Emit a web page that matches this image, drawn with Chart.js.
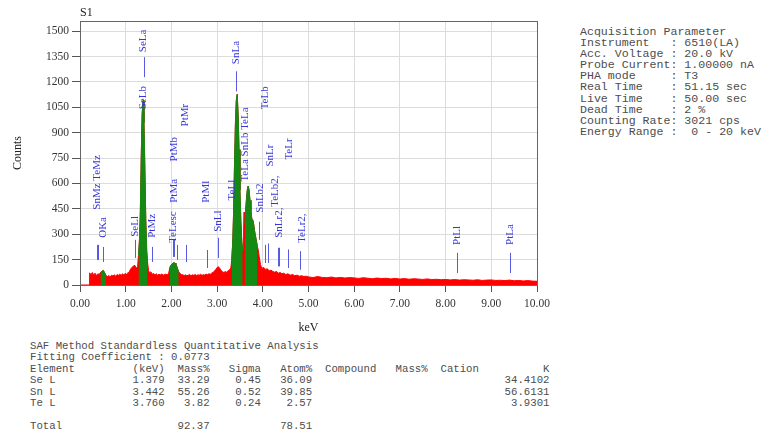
<!DOCTYPE html>
<html lang="en">
<head>
  <meta charset="UTF-8">
  <title>EDS spectrum S1</title>
  <script src="https://cdn.jsdelivr.net/npm/chart.js@4.4.2/dist/chart.umd.min.js"></script>
  <style>
    body { margin: 0; background: #fff; }
    #wrap { position: relative; width: 762px; height: 439px; overflow: hidden; }
    #spec { position: absolute; left: 0; top: 0; }
    .mono {
      position: absolute; margin: 0;
      font-family: 'Liberation Mono', 'DejaVu Sans Mono', monospace;
      color: #4d4d4d; white-space: pre;
    }
    #params { left: 580px; top: 26px; font-size: 11.6px; line-height: 11.1px; }
    #saf { left: 30px; top: 341px; font-size: 10.7px; line-height: 11.4px; }
    #sample { position: absolute; left: 80px; top: 5px; font: 12px 'Liberation Serif', serif; color: #222; }
  </style>
</head>
<body>
  <div id="wrap">
    <canvas id="spec" width="560" height="340"></canvas>
    <div id="sample">S1</div>
    <pre class="mono" id="params"></pre>
    <pre class="mono" id="saf"></pre>
  </div>

  <script>
    // spectrum (keV, counts)
    const energy = [
      0.00, 0.20, 0.21, 0.24, 0.27, 0.30, 0.33, 0.36, 0.39, 0.42,
      0.45, 0.48, 0.51, 0.54, 0.57, 0.60, 0.63, 0.66, 0.69, 0.72,
      0.75, 0.78, 0.81, 0.84, 0.87, 0.90, 0.93, 0.96, 0.99, 1.02,
      1.05, 1.08, 1.11, 1.14, 1.17, 1.20, 1.23, 1.26,
      1.28, 1.30, 1.32, 1.34, 1.36, 1.38, 1.40, 1.42, 1.44, 1.46,
      1.48, 1.50,
      1.52, 1.55, 1.58, 1.61, 1.64, 1.67, 1.70, 1.73, 1.76, 1.79,
      1.82, 1.85, 1.88, 1.91, 1.94,
      1.96, 1.98, 2.00, 2.02, 2.04, 2.06, 2.08, 2.10, 2.12, 2.14,
      2.16,
      2.19, 2.22, 2.25, 2.28, 2.31, 2.34, 2.37, 2.40, 2.43, 2.46,
      2.49, 2.52, 2.55, 2.58, 2.61, 2.64, 2.67, 2.70, 2.73, 2.76,
      2.79, 2.82, 2.85, 2.88, 2.91, 2.94, 2.97, 3.00, 3.03, 3.06,
      3.09, 3.12, 3.15, 3.18, 3.21, 3.24, 3.27, 3.30,
      3.32, 3.34, 3.36, 3.38, 3.40, 3.42, 3.44, 3.46, 3.48, 3.50,
      3.52, 3.54, 3.56, 3.57, 3.58, 3.59, 3.60, 3.61, 3.62, 3.64,
      3.66, 3.68, 3.70, 3.72, 3.74, 3.76, 3.78, 3.80, 3.82, 3.84,
      3.86, 3.88, 3.90,
      3.92, 3.95, 3.98, 4.02, 4.06, 4.10, 4.14, 4.18, 4.22, 4.26,
      4.30, 4.34, 4.38, 4.42, 4.46, 4.50, 4.55, 4.60, 4.65, 4.70,
      4.75, 4.80, 4.85, 4.90, 4.95,
      5.0, 5.1, 5.2, 5.3, 5.4, 5.5, 5.6, 5.7, 5.8, 5.9,
      6.0, 6.1, 6.2, 6.3, 6.4, 6.5, 6.6, 6.7, 6.8, 6.9,
      7.0, 7.1, 7.2, 7.3, 7.4, 7.5, 7.6, 7.7, 7.8, 7.9,
      8.0, 8.1, 8.2, 8.3, 8.4, 8.5, 8.6, 8.7, 8.8, 8.9,
      9.0, 9.1, 9.2, 9.3, 9.4, 9.5, 9.6, 9.7, 9.8, 9.9,
      10.0
    ];
    const counts = [
      0, 0, 72, 60, 74, 58, 70, 55, 66, 62,
      75, 80, 86, 72, 56, 50, 56, 48, 58, 54,
      60, 52, 62, 57, 64, 58, 66, 60, 68, 64,
      72, 80, 95, 105, 112, 116, 100, 108,
      175, 260, 430, 760, 1010, 1090, 960, 680, 380, 200,
      130, 85,
      72, 78, 64, 68, 60, 66, 58, 63, 60, 65,
      58, 62, 64, 60, 70,
      95, 112, 120, 126, 130, 131, 128, 120, 108, 92,
      78,
      68, 62, 60, 56, 60, 54, 58, 62, 55, 60,
      57, 62, 56, 60, 58, 63, 57, 61, 59, 64,
      62, 66, 63, 70, 74, 82, 92, 104, 108, 98,
      86, 78, 74, 80, 76, 84, 88, 100,
      150, 240, 420, 700, 950, 1090, 1127, 1010, 800, 560,
      380, 260, 200, 210, 330, 430, 300, 360, 420, 500,
      560, 585, 560, 500, 440, 390, 385, 360, 320, 290,
      260, 230, 207,
      170, 120, 98, 104, 92, 96, 84, 88, 80, 76,
      80, 70, 74, 66, 70, 62, 66, 58, 62, 55,
      58, 52, 55, 50, 52,
      48, 44, 50, 45, 43, 47, 42, 45, 41, 44,
      42, 39, 43, 40, 37, 41, 38, 40, 36, 39,
      35, 38, 34, 37, 35, 33, 36, 32, 34, 31,
      33, 30, 32, 29, 31, 30, 28, 31, 27, 29,
      30, 27, 28, 26, 29, 25, 27, 24, 26, 23,
      22
    ];
    // keV ranges shaded green (O K, Se L, Te L esc, Sn L, Sn/Te L)
    const peakWindows = [[0.44, 0.58], [1.27, 1.49], [1.95, 2.17], [3.31, 3.565], [3.605, 3.885]];

    const xTicks = [0, 1, 2, 3, 4, 5, 6, 7, 8, 9, 10];
    const yTicks = [0, 150, 300, 450, 600, 750, 900, 1050, 1200, 1350, 1500];

    // line labels: name, keV, counts where the (rotated) text starts
    const lineNames = ['SnMz TeMz', 'OKa', 'SeLl', 'SeLb', 'SeLa', 'PtMz', 'TeLesc', 'PtMa', 'PtMb', 'PtMr',
      'PtMl', 'SnLl', 'TeLl', 'SnLa', 'TeLa SnLb TeLa', 'SnLb2', 'TeLb', 'SnLr', 'TeLb2,', 'SnLr2,',
      'TeLr', 'TeLr2,', 'PtLl', 'PtLa'];
    const lineKeV = [0.37, 0.50, 1.20, 1.39, 1.39, 1.57, 2.04, 2.05, 2.06, 2.30,
      2.77, 3.03, 3.33, 3.41, 3.62, 3.94, 4.05, 4.17, 4.28, 4.36,
      4.57, 4.85, 8.25, 9.41];
    const lineTextAt = [445, 279, 285, 1038, 1376, 279, 249, 486, 730, 937,
      486, 314, 500, 1305, 611, 427, 1038, 700, 462, 279,
      741, 249, 237, 237];

    // short marker strokes: keV, low, high
    const markerKeV = [0.37, 0.40, 0.50, 1.20, 1.39, 1.58, 2.03, 2.05, 2.12, 2.33,
      2.77, 3.03, 3.41, 3.92, 4.05, 4.11, 4.33, 4.36, 4.55, 4.81, 8.25, 9.41];
    const markerLow = [148, 148, 136, 160, 1228, 136, 166, 166, 148, 136,
      100, 160, 1144, 267, 130, 130, 110, 110, 100, 90, 71, 71];
    const markerHigh = [237, 237, 225, 267, 1346, 225, 267, 267, 237, 237,
      207, 279, 1263, 374, 237, 245, 220, 220, 210, 200, 190, 190];

    const spectrum = energy.map((e, i) => ({ x: e, y: counts[i] }));
    const inPeak = e => peakWindows.some(w => e >= w[0] && e <= w[1]);
    const peakArea = energy.map((e, i) => ({ x: e, y: inPeak(e) ? counts[i] : null }));

    const serif = "'Liberation Serif', 'Times New Roman', serif";

    const frame = {
      id: 'frame',
      afterDraw(chart) {
        const { ctx, chartArea: a } = chart;
        ctx.save();
        ctx.strokeStyle = '#666';
        ctx.lineWidth = 1;
        ctx.strokeRect(a.left + 0.5, a.top + 0.5, a.right - a.left, a.bottom - a.top);
        ctx.restore();
      }
    };

    const lineLabels = {
      id: 'lineLabels',
      afterDatasetsDraw(chart) {
        const { ctx, scales: { x, y } } = chart;
        ctx.save();
        ctx.strokeStyle = '#5a5ae0';
        ctx.lineWidth = 1;
        for (let i = 0; i < markerKeV.length; i++) {
          const px = Math.round(x.getPixelForValue(markerKeV[i])) + 0.5;
          ctx.beginPath();
          ctx.moveTo(px, y.getPixelForValue(markerLow[i]));
          ctx.lineTo(px, y.getPixelForValue(markerHigh[i]));
          ctx.stroke();
        }
        ctx.fillStyle = '#3535d8';
        ctx.font = '11px ' + serif;
        ctx.textAlign = 'left';
        ctx.textBaseline = 'middle';
        for (let i = 0; i < lineNames.length; i++) {
          ctx.save();
          ctx.translate(x.getPixelForValue(lineKeV[i]), y.getPixelForValue(lineTextAt[i]));
          ctx.rotate(-Math.PI / 2);
          ctx.fillText(lineNames[i], 0, 0);
          ctx.restore();
        }
        ctx.restore();
      }
    };

    new Chart(document.getElementById('spec'), {
      type: 'line',
      data: {
        datasets: [
          {
            label: 'Peaks',
            data: peakArea,
            borderColor: '#138a13',
            backgroundColor: '#138a13',
            borderWidth: 1,
            fill: 'origin',
            spanGaps: false,
            pointRadius: 0,
            tension: 0
          },
          {
            label: 'Spectrum',
            data: spectrum,
            borderColor: '#ff0000',
            backgroundColor: '#ff0000',
            borderWidth: 1,
            fill: 'origin',
            pointRadius: 0,
            tension: 0
          }
        ]
      },
      options: {
        responsive: false,
        animation: false,
        layout: { padding: { top: 21, right: 23, left: 0, bottom: 0 } },
        plugins: { legend: { display: false }, tooltip: { enabled: false } },
        scales: {
          x: {
            type: 'linear', min: 0, max: 10,
            afterBuildTicks: s => { s.ticks = xTicks.map(v => ({ value: v })); },
            afterFit: s => { s.height = 55; },
            ticks: { callback: v => v.toFixed(2), color: '#333', font: { family: serif, size: 11.5 }, padding: 5, maxRotation: 0, autoSkip: false },
            grid: { color: '#dcdcdc', tickColor: '#555', tickLength: 7 },
            border: { color: '#555' },
            title: { display: true, text: 'keV', color: '#222', font: { family: serif, size: 12 }, padding: { top: 0, bottom: 5 } }
          },
          y: {
            min: 0, max: 1560,
            afterBuildTicks: s => { s.ticks = yTicks.map(v => ({ value: v })); },
            afterFit: s => { s.width = 80; },
            ticks: { callback: v => String(v), color: '#333', font: { family: serif, size: 11.5 } },
            grid: { color: '#dcdcdc', tickColor: '#555', tickLength: 8 },
            border: { color: '#555' },
            title: { display: true, text: 'Counts', color: '#222', font: { family: serif, size: 12 }, padding: { top: 11, bottom: 0 } }
          }
        }
      },
      plugins: [frame, lineLabels]
    });

    document.getElementById('params').textContent = [
      'Acquisition Parameter',
      'Instrument   : 6510(LA)',
      'Acc. Voltage : 20.0 kV',
      'Probe Current: 1.00000 nA',
      'PHA mode     : T3',
      'Real Time    : 51.15 sec',
      'Live Time    : 50.00 sec',
      'Dead Time    : 2 %',
      'Counting Rate: 3021 cps',
      'Energy Range :  0 - 20 keV'
    ].join('\n');

    // quantitative table, right-aligned to these character columns
    const colEnd = [0, 21, 28, 36, 44, 54, 62, 70, 81];
    const tableHead = ['Element', '(keV)', 'Mass%', 'Sigma', 'Atom%', 'Compound', 'Mass%', 'Cation', 'K'];
    const tableRows = [
      ['Se L', '1.379', '33.29', '0.45', '36.09', '', '', '', '34.4102'],
      ['Sn L', '3.442', '55.26', '0.52', '39.85', '', '', '', '56.6131'],
      ['Te L', '3.760', '3.82', '0.24', '2.57', '', '', '', '3.9301'],
      [],
      ['Total', '', '92.37', '', '78.51']
    ];
    function fmtRow(cells) {
      let s = cells[0] || '';
      for (let i = 1; i < cells.length; i++) {
        if (!cells[i]) continue;
        s = s.padEnd(colEnd[i] - cells[i].length) + cells[i];
      }
      return s;
    }
    document.getElementById('saf').textContent = [
      'SAF Method Standardless Quantitative Analysis',
      'Fitting Coefficient : 0.0773',
      fmtRow(tableHead)
    ].concat(tableRows.map(fmtRow)).join('\n');
  </script>
</body>
</html>
